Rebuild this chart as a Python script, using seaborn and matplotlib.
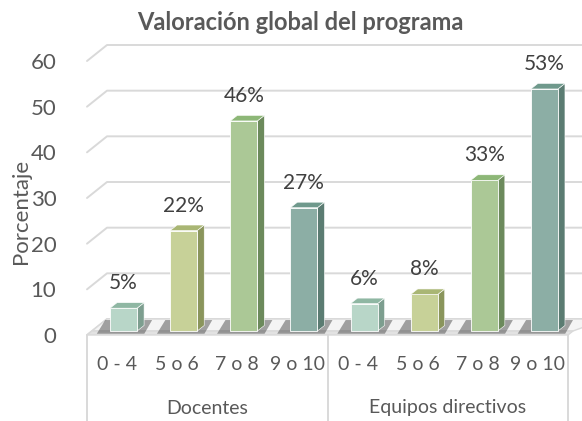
import numpy as np
import pandas as pd
import matplotlib
matplotlib.use("Agg")
import matplotlib.pyplot as plt
import seaborn as sns
from matplotlib.transforms import ScaledTranslation, blended_transform_factory
from matplotlib.patches import Polygon

# ---------------- data ----------------
groups = ["Docentes", "Equipos directivos"]
categories = ["0 - 4", "5 o 6", "7 o 8", "9 o 10"]
docentes = [5, 22, 46, 27]
equipos = [6, 8, 33, 53]
yticks = [0, 10, 20, 30, 40, 50, 60]
title = "Valoración global del programa"
ylabel = "Porcentaje"

# ---------------- style ----------------
front_colors = ["#b3dbc8", "#cddb8e", "#a9d08e", "#86b4a7"]
side_colors = ["#7d9e8f", "#8a955c", "#6c8a5c", "#5b7c72"]
top_colors = ["#8fb7a3", "#a9b674", "#8db777", "#6f998c"]

sns.set_theme(style="white")
plt.rcParams['font.family'] = ['Lato', 'DejaVu Sans']

rows = []
for g, vals in zip(groups, [docentes, equipos]):
    for c, v in zip(categories, vals):
        rows.append({"pos": f"{g}|{c}", "group": g, "cat": c, "value": v})
df = pd.DataFrame(rows)

W, H = 582, 421
DPI = 100
fig = plt.figure(figsize=(W / DPI, H / DPI), dpi=DPI)
ax_left, ax_right, ax_bottom_px, ax_top_px = 87, 568, 335, 61
ax = fig.add_axes([ax_left / W, (H - ax_bottom_px) / H,
                   (ax_right - ax_left) / W, (ax_bottom_px - ax_top_px) / H])

sns.barplot(data=df, x="pos", y="value", hue="cat", hue_order=categories,
            order=list(df["pos"]), palette=front_colors, dodge=False,
            width=0.45, legend=False, ax=ax, zorder=5,
            edgecolor="white", linewidth=0.6)

ax.set_xlim(-0.5, 7.5)
ax.set_ylim(0, 60)
for s in ax.spines.values():
    s.set_visible(False)
ax.set_facecolor("none")
ax.set_xlabel("")
ax.set_ylabel("")

# pixel -> data conversions
px_x = 8 / (ax_right - ax_left)
px_y = 60 / (ax_bottom_px - ax_top_px)

grid_c = "#d9d9d9"
text_c = "#595959"

# back wall gridlines with perspective
wdx, wdy = 20 * px_x, 16 * px_y
for v in yticks:
    ax.plot([-0.5, -0.5 + wdx, 7.5 + wdx + 0.3], [v, v + wdy, v + wdy],
            color=grid_c, lw=1.4, clip_on=False, zorder=1)

# floor
floor_top = Polygon([(-0.5 + 5 * px_x, 4 * px_y), (7.5 + 5 * px_x, 4 * px_y),
                     (7.5 + wdx + 0.3, wdy), (-0.5 + wdx, wdy)],
                    closed=True, facecolor="#f4f4f4", edgecolor=grid_c, lw=1.0,
                    clip_on=False, zorder=2)
ax.add_patch(floor_top)
floor_front = Polygon([(-0.5, 0), (7.5, 0), (7.5 + 5 * px_x, 4 * px_y),
                       (-0.5 + 5 * px_x, 4 * px_y)],
                      closed=True, facecolor="#e2e2e2", edgecolor=grid_c, lw=1.0,
                      clip_on=False, zorder=2)
ax.add_patch(floor_front)

# y ticks
ax.set_yticks(yticks)
ax.set_yticklabels([str(v) for v in yticks])
ax.tick_params(axis="y", length=0, pad=22, labelsize=16, labelcolor=text_c)
ax.set_xticks([])

# 3D bars
bar_off = ScaledTranslation(6.5 / DPI, 4 / DPI, fig.dpi_scale_trans)
bdx, bdy = 7 * px_x, 5.5 * px_y
bars = sorted(ax.patches[:8], key=lambda p: p.get_x())
for i, p in enumerate(bars):
    ci = i % 4
    p.set_transform(ax.transData + bar_off)
    x0 = p.get_x()
    w = p.get_width()
    h = p.get_height()
    x1 = x0 + w
    shadow = Polygon([(x0 - 0.22, -0.6), (x1 + 0.12, -0.6), (x1 + 0.25, 2.4), (x0 - 0.08, 2.4)],
                     closed=True, facecolor="#3a3a3a", alpha=0.45, edgecolor="none",
                     transform=ax.transData + bar_off, zorder=3, clip_on=False)
    ax.add_patch(shadow)
    side = Polygon([(x1, 0), (x1 + bdx, bdy), (x1 + bdx, h + bdy), (x1, h)], closed=True,
                   facecolor=side_colors[ci], edgecolor="white", lw=0.4,
                   transform=ax.transData + bar_off, zorder=4, clip_on=False)
    ax.add_patch(side)
    top = Polygon([(x0, h), (x1, h), (x1 + bdx, h + bdy), (x0 + bdx, h + bdy)], closed=True,
                  facecolor=top_colors[ci], edgecolor="white", lw=0.4,
                  transform=ax.transData + bar_off, zorder=6, clip_on=False)
    ax.add_patch(top)
    ax.annotate(f"{h:.0f}%", xy=(x0 + w / 2, h), xycoords=ax.transData + bar_off,
                xytext=(0, 18), textcoords="offset points", ha="center", va="center",
                fontsize=15, color="#404040", zorder=7, annotation_clip=False)

# category axis box
xax_t = blended_transform_factory(ax.transData, ax.transAxes)
bottom_axes = -(H - ax_bottom_px) / (ax_bottom_px - ax_top_px)
for xv in [-0.5, 3.5, 7.5]:
    ax.plot([xv, xv], [0, bottom_axes], color=grid_c, lw=1.4, transform=xax_t,
            clip_on=False, zorder=2)

lab_off = ScaledTranslation(0, -30 / DPI, fig.dpi_scale_trans)
grp_off = ScaledTranslation(0, -73 / DPI, fig.dpi_scale_trans)
for gi, g in enumerate(groups):
    for ci, c in enumerate(categories):
        ax.text(gi * 4 + ci, 0, c, transform=xax_t + lab_off, ha="center", va="center",
                fontsize=14, color=text_c)
    ax.text(gi * 4 + 1.5, 0, g, transform=xax_t + grp_off, ha="center", va="center",
            fontsize=14, color=text_c)

fig.text(300 / W, 1 - 23 / H, title, ha="center", va="center", fontsize=17,
         fontweight="bold", color=text_c)
fig.text(21 / W, 1 - 211 / H, ylabel, ha="center", va="center", rotation=90,
         fontsize=16, color=text_c)

fig.savefig("out.png", dpi=DPI)
